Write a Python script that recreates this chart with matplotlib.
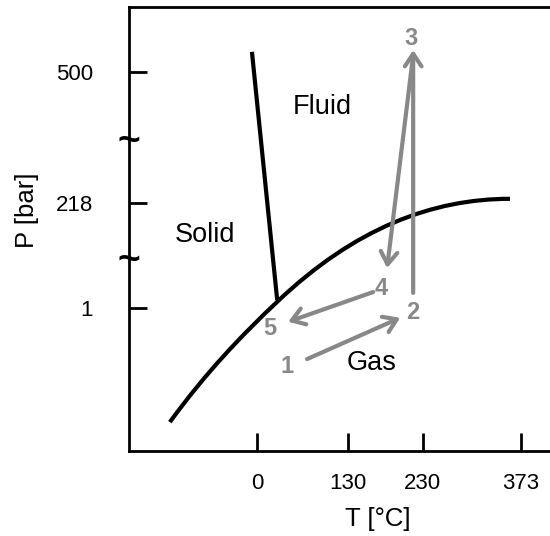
import matplotlib
from matplotlib import pyplot as plt
from matplotlib.path import Path
from matplotlib.patches import PathPatch

matplotlib.use("Agg")
plt.rcParams["font.family"] = ["Liberation Sans", "DejaVu Sans"]

# schematic axes, 0..10 both ways
x_tick_pos = [3.04, 5.20, 6.98, 9.31]
x_tick_labels = ["0", "130", "230", "373"]
y_tick_pos = [3.22, 5.59, 8.54]
y_tick_labels = ["1", "218", "500"]
y_breaks = [4.29, 6.97]

# sublimation / vaporisation curve as two cubic bezier pieces
# start, ctrl, ctrl, triple point, ctrl, ctrl, critical point
curve_x = [0.97, 1.82, 2.67, 3.52, 5.36, 7.21, 9.05]
curve_y = [0.65, 1.76, 2.60, 3.36, 5.02, 5.68, 5.68]

# melting line
melt_x = [2.92, 3.52]
melt_y = [8.99, 3.40]

# process steps: (start, end)
steps = [
    ((4.23, 2.07), (6.44, 3.00)),  # 1 -> 2
    ((6.75, 3.56), (6.75, 9.03)),  # 2 -> 3
    ((6.75, 8.92), (6.13, 4.12)),  # 3 -> 4
    ((5.80, 3.58), (3.78, 2.91)),  # 4 -> 5
]
state_labels = ["1", "2", "3", "4", "5"]
state_pos = [(3.75, 1.91), (6.75, 3.11), (6.70, 9.30), (5.99, 3.67), (3.35, 2.77)]

regions = ["Fluid", "Solid", "Gas"]
region_pos = [(4.58, 7.75), (1.81, 4.86), (5.77, 1.98)]

gray = "#888888"

fig = plt.figure(figsize=(5.5, 5.36), dpi=100)
ax = fig.add_axes([129 / 550, 85 / 536, 421 / 550, 444 / 536])
ax.set_xlim(0, 10)
ax.set_ylim(0, 10)

for side in ["left", "bottom", "top"]:
    ax.spines[side].set_linewidth(2)
ax.spines["right"].set_visible(False)

ax.set_xticks(x_tick_pos)
ax.set_xticklabels(x_tick_labels)
ax.set_yticks(y_tick_pos)
ax.set_yticklabels(y_tick_labels)
ax.tick_params(axis="both", direction="in", length=13, width=2, labelsize=16)
ax.tick_params(axis="x", pad=16)
ax.tick_params(axis="y", pad=26)

ax.set_xlabel("T [°C]", fontsize=18.5, va="center")
ax.xaxis.set_label_coords(0.591, -0.153)
ax.set_ylabel("P [bar]", fontsize=18.5, va="center")
ax.yaxis.set_label_coords(-0.242, 0.543)

# axis break marks
for yb in y_breaks:
    ax.text(0, yb, "~", fontsize=28, fontweight="bold", ha="center",
            va="center", clip_on=False)

codes = [Path.MOVETO] + [Path.CURVE4] * 6
curve = Path(list(zip(curve_x, curve_y)), codes)
ax.add_patch(PathPatch(curve, fill=False, edgecolor="black", lw=3,
                       capstyle="butt"))
ax.plot(melt_x, melt_y, color="black", lw=3, solid_capstyle="butt")

for start, end in steps:
    ax.annotate("", xy=end, xytext=start,
                arrowprops=dict(arrowstyle="->,head_length=0.45,head_width=0.3",
                                mutation_scale=20, lw=3, color=gray,
                                shrinkA=0, shrinkB=0))

for lab, (x, y) in zip(state_labels, state_pos):
    ax.text(x, y, lab, fontsize=17, fontweight="bold", color=gray,
            ha="center", va="center")

for lab, (x, y) in zip(regions, region_pos):
    ax.text(x, y, lab, fontsize=19.5, ha="center", va="center")

fig.savefig("out.png", dpi=100)
plt.close(fig)
